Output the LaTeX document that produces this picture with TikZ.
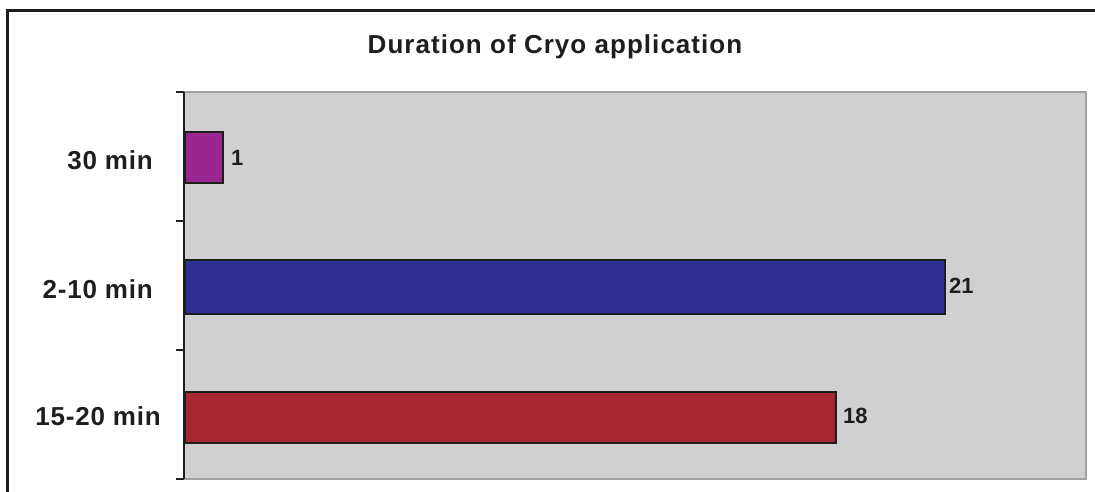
\documentclass[tikz,border=0pt]{standalone}
\usepackage{fontspec}
\setmainfont{Liberation Sans}
\definecolor{framec}{HTML}{1E1E1E}
\definecolor{plotbg}{HTML}{D0D0D0}
\definecolor{plotedge}{HTML}{A0A0A0}
\definecolor{barpurple}{HTML}{99278F}
\definecolor{barblue}{HTML}{2E3192}
\definecolor{barred}{HTML}{A8262F}
\tikzset{
  catlabel/.style={anchor=base east, inner sep=0pt, text=framec,
    font=\fontsize{26}{30}\selectfont\bfseries\addfontfeature{LetterSpace=3}},
  vallabel/.style={anchor=base west, inner sep=0pt, text=framec,
    font=\fontsize{22}{26}\selectfont\bfseries},
  titlelabel/.style={anchor=base, inner sep=0pt, text=framec,
    font=\fontsize{26}{30}\selectfont\bfseries\addfontfeature{LetterSpace=4}},
  bar/.style={draw=framec, line width=2.2pt},
  axisline/.style={draw=framec, line width=2.5pt},
}
\begin{document}
\begin{tikzpicture}[x=1pt,y=-1pt]
\useasboundingbox (0,0) rectangle (1095,491);
% outer frame (extends past the picture on right and bottom)
\draw[framec, line width=3pt] (7,500) -- (7,10) -- (1100,10);
% title
\node[titlelabel] (title) at (555,53.3) {Duration of Cryo application};
% plot area
\fill[plotbg] (184,92) rectangle (1086,479);
\draw[plotedge, line width=2.5pt] (184,92) -- (1086,92) -- (1086,479) -- (184,479);
% axis and ticks
\coordinate (axtop) at (184,92);
\coordinate (axbot) at (184,479);
\draw[axisline] (axtop) -- (axbot);
\foreach \yy in {92,221,350,479} {
  \draw[axisline] (176,\yy) -- (184,\yy);
}
% bars
\node[bar, fill=barpurple, anchor=north west, minimum width=38pt, minimum height=51pt, inner sep=0pt] (b30) at (184,131) {};
\node[bar, fill=barblue, anchor=north west, minimum width=760pt, minimum height=54pt, inner sep=0pt] (b210) at (184,259) {};
\node[bar, fill=barred, anchor=north west, minimum width=651pt, minimum height=51pt, inner sep=0pt] (b1520) at (184,391) {};
% category labels
\node[catlabel] (l30) at (153,169.3) {30 min};
\node[catlabel] (l210) at (153,298) {2-10 min};
\node[catlabel] (l1520) at (161,425) {15-20 min};
% value labels
\node[vallabel] (v30) at (231,165) {1};
\node[vallabel] (v210) at (949,293) {21};
\node[vallabel] (v1520) at (843,423) {18};
\end{tikzpicture}
\end{document}
